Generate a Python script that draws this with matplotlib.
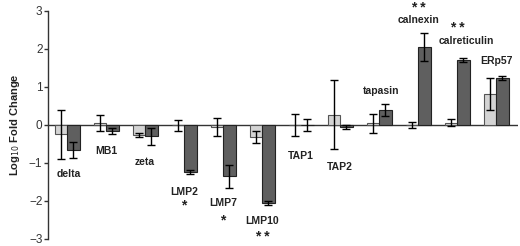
import numpy as np
import matplotlib.pyplot as plt

plt.rcParams['font.family'] = ['Liberation Sans', 'DejaVu Sans']

# gene names and their significance marks
genes = ["delta", "MB1", "zeta", "LMP2", "LMP7", "LMP10",
         "TAP1", "TAP2", "tapasin", "calnexin", "calreticulin", "ERp57"]
stars = ["", "", "", "*", "*", "**", "", "", "", "**", "**", ""]

# log10 fold change, light (first) and dark (second) series
light_vals = [-0.25, 0.05, -0.27, -0.01, -0.05, -0.32, 0.0, 0.27, 0.05, 0.0, 0.06, 0.81]
light_err = [0.65, 0.21, 0.05, 0.14, 0.24, 0.15, 0.30, 0.90, 0.25, 0.08, 0.10, 0.42]
dark_vals = [-0.65, -0.16, -0.30, -1.24, -1.35, -2.05, 0.0, -0.06, 0.39, 2.05, 1.71, 1.23]
dark_err = [0.21, 0.07, 0.22, 0.05, 0.30, 0.05, 0.16, 0.05, 0.15, 0.36, 0.06, 0.05]

# where each gene label sits (x offset, y in data units)
label_pos = [(0.05, -1.29), (0.0, -0.68), (0.0, -0.97), (0.0, -1.76), (0.0, -2.05),
             (0.0, -2.53), (0.0, -0.82), (0.0, -1.10), (0.05, 0.90), (0.0, 2.76),
             (0.23, 2.22), (0.0, 1.67)]
star_y = [None, None, None, -2.13, -2.50, -2.95, None, None, None, 3.08, 2.56, None]

fig = plt.figure(figsize=(5.2, 2.46), dpi=100)
ax = fig.add_axes([0.0923, 0.0285, 0.904, 0.927])

x = np.arange(len(genes))
w = 0.32
ax.bar(x - w / 2, light_vals, w, color="#d4d4d4", edgecolor="#555555", linewidth=0.8, zorder=2)
ax.bar(x + w / 2, dark_vals, w, color="#5f5f5f", edgecolor="#222222", linewidth=0.8, zorder=2)
ax.errorbar(x - w / 2, light_vals, yerr=light_err, fmt="none", ecolor="black",
            elinewidth=1, capsize=3, capthick=1, zorder=3)
ax.errorbar(x + w / 2, dark_vals, yerr=dark_err, fmt="none", ecolor="black",
            elinewidth=1, capsize=3, capthick=1, zorder=3)
ax.axhline(0, color="#333333", linewidth=1, zorder=1)

for i, g in enumerate(genes):
    dx, ly = label_pos[i]
    ax.text(i + dx, ly, g, ha="center", va="center", fontsize=7.5,
            fontweight="bold", color="#222222")
    if stars[i]:
        ax.text(i, star_y[i], " ".join(stars[i]), ha="center", va="center", fontsize=10,
                fontweight="bold", color="#222222")

ax.set_xlim(-0.49, 11.56)
ax.set_ylim(-3, 3)
ax.set_yticks([-3, -2, -1, 0, 1, 2, 3])
ax.set_xticks([])
for s in ["top", "right", "bottom"]:
    ax.spines[s].set_visible(False)
ax.spines["left"].set_color("#333333")
ax.spines["left"].set_linewidth(1)
ax.tick_params(axis="y", length=3, width=1, labelsize=8.5, colors="#333333", pad=1)
ax.set_ylabel("Log$_{10}$ Fold Change", fontsize=8, fontweight="bold", color="#222222", labelpad=5)

fig.savefig("out.png", dpi=100)
